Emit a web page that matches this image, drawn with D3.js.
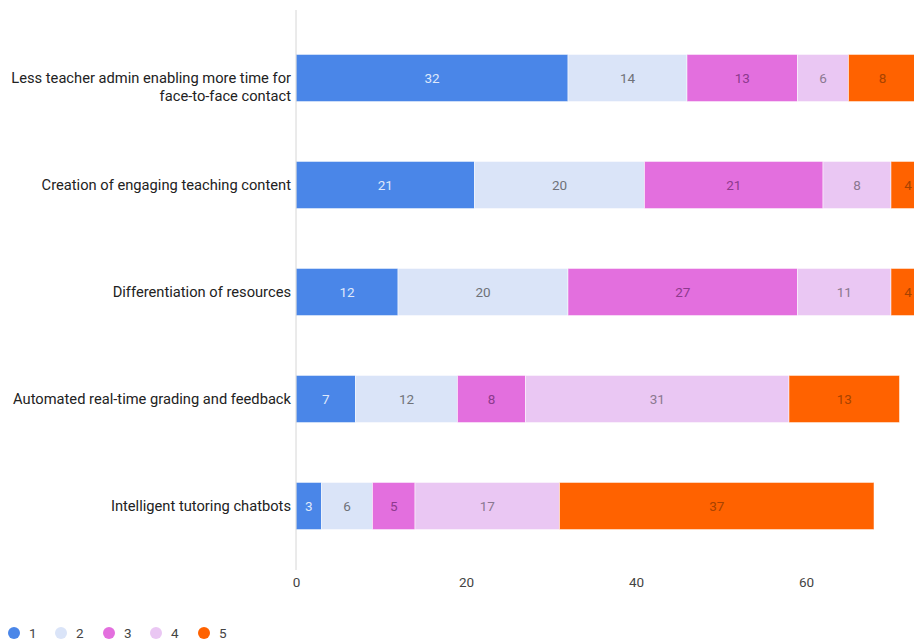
<!DOCTYPE html>
<html>
<head>
<meta charset="utf-8">
<script src="https://cdn.jsdelivr.net/npm/d3@7"></script>
<style>
  html, body { margin: 0; padding: 0; background: #fff; }
  svg { display: block; font-family: Roboto, "Noto Sans", Arial, sans-serif; }
</style>
</head>
<body>
<svg id="chart" width="914" height="641"></svg>
<script>
// Survey responses: count of each rating (1–5) per AI use case
const categories = [
  ["Less teacher admin enabling more time for", "face-to-face contact"],
  ["Creation of engaging teaching content"],
  ["Differentiation of resources"],
  ["Automated real-time grading and feedback"],
  ["Intelligent tutoring chatbots"]
];
const seriesNames = ["1", "2", "3", "4", "5"];
const rating1 = [32, 21, 12, 7, 3];
const rating2 = [14, 20, 20, 12, 6];
const rating3 = [13, 21, 27, 8, 5];
const rating4 = [6, 8, 11, 31, 17];
const rating5 = [8, 4, 4, 13, 37];
const xTicks = [0, 20, 40, 60];

const fills = ["#4a86e8", "#dae4f8", "#e36fde", "#eac7f3", "#ff6200"];
const labelColors = ["#dfe8fb", "#6f7278", "#8d3a8d", "#8a7890", "#a84300"];

const series = [rating1, rating2, rating3, rating4, rating5];
const rows = categories.map((c, i) => {
  const o = { key: i };
  seriesNames.forEach((s, j) => { o[s] = series[j][i]; });
  return o;
});
const stacked = d3.stack().keys(seriesNames)(rows);

const svg = d3.select("#chart");
const left = 296;

const x = d3.scaleLinear().domain([0, 80]).range([left, left + 680]);
const y = d3.scaleBand()
  .domain(categories.map((c, i) => i))
  .range([24.5, 559.5])
  .paddingInner(0.56)
  .paddingOuter(0.28);

svg.append("defs").append("clipPath").attr("id", "plot")
  .append("rect").attr("x", left).attr("y", 0).attr("width", 914 - left).attr("height", 641);

const plot = svg.append("g").attr("clip-path", "url(#plot)");

stacked.forEach((layer, j) => {
  const g = plot.append("g");
  g.selectAll("rect").data(layer).join("rect")
    .attr("x", d => x(d[0]))
    .attr("y", (d, i) => y(i))
    .attr("width", d => x(d[1]) - x(d[0]))
    .attr("height", y.bandwidth())
    .attr("fill", fills[j])
    .attr("stroke", "#fff")
    .attr("stroke-opacity", 0.5)
    .attr("stroke-width", 1);
  g.selectAll("text").data(layer).join("text")
    .attr("x", d => (x(d[0]) + x(d[1])) / 2)
    .attr("y", (d, i) => y(i) + y.bandwidth() / 2)
    .attr("dy", "0.35em")
    .attr("text-anchor", "middle")
    .attr("font-size", 13.5)
    .attr("fill", labelColors[j])
    .text(d => d[1] - d[0]);
});

// baseline at zero
svg.append("line")
  .attr("x1", x(0)).attr("x2", x(0))
  .attr("y1", 10).attr("y2", 570)
  .attr("stroke", "#d6d6d6").attr("stroke-width", 1);

// category labels
const catG = svg.append("g");
categories.forEach((lines, i) => {
  const cy = y(i) + y.bandwidth() / 2;
  const t = catG.append("text")
    .attr("text-anchor", "end")
    .attr("font-size", 14.7)
    .attr("fill", "#222");
  lines.forEach((ln, k) => {
    t.append("tspan")
      .attr("x", 291)
      .attr("y", cy + k * 17.5)
      .attr("dy", "0.35em")
      .text(ln);
  });
});

// x axis
const xAxis = d3.axisBottom(x).tickValues(xTicks).tickSize(0).tickPadding(0);
const ax = svg.append("g").attr("transform", "translate(0,577)").call(xAxis);
ax.select(".domain").remove();
ax.selectAll("text")
  .attr("font-size", 13.5)
  .attr("fill", "#444")
  .attr("font-family", "Roboto, 'Noto Sans', Arial, sans-serif");

// legend
const legendX = [14, 61, 109, 156, 204];
const lg = svg.append("g");
seriesNames.forEach((s, j) => {
  lg.append("circle").attr("cx", legendX[j]).attr("cy", 633).attr("r", 6).attr("fill", fills[j]);
  lg.append("text").attr("x", legendX[j] + 15).attr("y", 633).attr("dy", "0.35em")
    .attr("font-size", 13.5).attr("fill", "#444").text(s);
});
</script>
</body>
</html>
